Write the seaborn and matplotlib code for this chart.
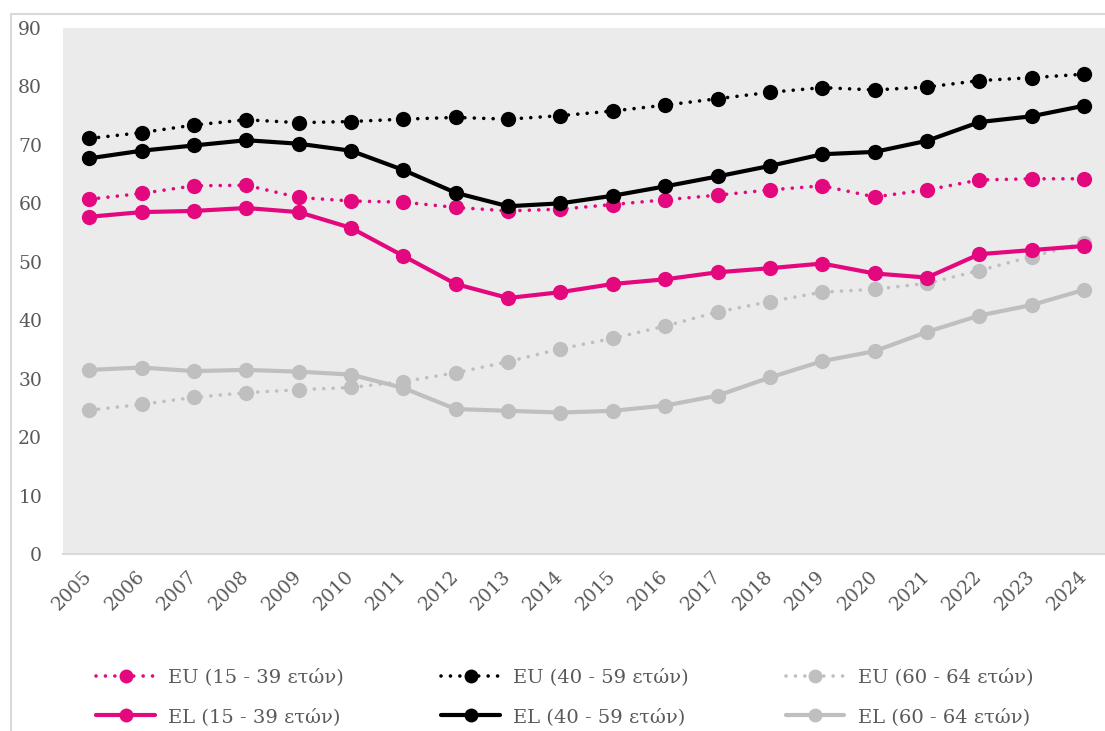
import numpy as np
import pandas as pd
import matplotlib
matplotlib.use("Agg")
import matplotlib.pyplot as plt
import seaborn as sns
from matplotlib.patches import Rectangle
from matplotlib.lines import Line2D

years = list(range(2005, 2025))
year_labels = [str(y) for y in years]

eu_15_39 = [60.7, 61.7, 63.0, 63.1, 61.0, 60.4, 60.2, 59.3, 58.7, 59.0,
            59.8, 60.6, 61.4, 62.3, 63.0, 61.1, 62.3, 64.0, 64.2, 64.2]
el_15_39 = [57.7, 58.5, 58.7, 59.2, 58.5, 55.8, 51.0, 46.2, 43.8, 44.8,
            46.2, 47.0, 48.2, 48.9, 49.7, 48.0, 47.3, 51.3, 52.0, 52.7]
eu_40_59 = [71.1, 72.1, 73.4, 74.3, 73.8, 74.0, 74.4, 74.7, 74.4, 75.0,
            75.8, 76.8, 77.9, 79.0, 79.8, 79.4, 79.9, 81.0, 81.5, 82.1]
el_40_59 = [67.7, 69.0, 69.9, 70.8, 70.2, 69.0, 65.7, 61.8, 59.5, 60.0,
            61.3, 62.9, 64.6, 66.4, 68.4, 68.8, 70.7, 73.9, 74.9, 76.7]
eu_60_64 = [24.6, 25.6, 26.8, 27.6, 28.1, 28.5, 29.5, 31.0, 32.9, 35.1,
            36.9, 39.0, 41.4, 43.2, 44.8, 45.3, 46.3, 48.5, 50.9, 53.2]
el_60_64 = [31.5, 31.9, 31.3, 31.5, 31.2, 30.7, 28.4, 24.8, 24.5, 24.2,
            24.5, 25.4, 27.1, 30.2, 33.0, 34.7, 38.0, 40.8, 42.6, 45.2]

labels = {
    "eu15": "EU (15 - 39 ετών)", "el15": "EL (15 - 39 ετών)",
    "eu40": "EU (40 - 59 ετών)", "el40": "EL (40 - 59 ετών)",
    "eu60": "EU (60 - 64 ετών)", "el60": "EL (60 - 64 ετών)",
}

PINK = "#E4087E"
BLACK = "#000000"
GREY = "#BFBFBF"
TEXT = "#595959"

sns.set_theme(style="white")
plt.rcParams["font.family"] = ["DejaVu Serif", "Liberation Serif"]

W, H = 1105, 731
fig = plt.figure(figsize=(W / 100, H / 100), dpi=100)
# outer chart-area border
fig.patches.append(Rectangle((11 / W, -0.1), 1.2, 1 - 14 / H + 0.1,
                             transform=fig.transFigure, fill=False,
                             edgecolor="#D9D9D9", lw=1.5))

ax = fig.add_axes([63 / W, (H - 554) / H, (W - 63) / W, (554 - 28) / H])
ax.set_facecolor("#EBEBEB")

dotted = (0, (0.01, 2.6))
series = [
    ("eu60", eu_60_64, GREY, dotted, 2.6),
    ("el60", el_60_64, GREY, "-", 3.0),
    ("eu15", eu_15_39, PINK, dotted, 2.6),
    ("el15", el_15_39, PINK, "-", 3.0),
    ("eu40", eu_40_59, BLACK, dotted, 2.6),
    ("el40", el_40_59, BLACK, "-", 3.0),
]
handles = {}
for key, vals, col, ls, lw in series:
    df = pd.DataFrame({"year": years, "value": vals})
    sns.lineplot(data=df, x="year", y="value", ax=ax, color=col, lw=lw,
                 linestyle=ls, marker="o", markersize=11,
                 markeredgewidth=0, dash_capstyle="round", solid_capstyle="round")
    handles[key] = Line2D([], [], color=col, lw=lw, linestyle=ls, marker="o",
                          markersize=10, markeredgewidth=0,
                          dash_capstyle="round")

ax.set_xlim(2004.5, 2024.4)
ax.set_ylim(0, 90)
ax.set_yticks(range(0, 91, 10))
ax.set_xticks(years)
ax.set_xticklabels(year_labels, rotation=45, ha="right", va="center",
                   rotation_mode="anchor")
ax.tick_params(axis="both", length=0, labelsize=13.5, labelcolor=TEXT)
ax.tick_params(axis="y", pad=15)
ax.tick_params(axis="x", pad=14)
ax.set_xlabel("")
ax.set_ylabel("")
ax.grid(False)
for s in ["left", "right", "top"]:
    ax.spines[s].set_visible(False)
ax.spines["bottom"].set_color("#D9D9D9")
ax.spines["bottom"].set_linewidth(1.5)

order = ["eu15", "el15", "eu40", "el40", "eu60", "el60"]
leg = fig.legend([handles[k] for k in order], [labels[k] for k in order],
                 ncol=3, loc="center", bbox_to_anchor=(565 / W, 1 - 697 / H),
                 frameon=False, fontsize=14, handlelength=3.0,
                 handletextpad=0.7, columnspacing=5.0, labelspacing=1.1)
for t in leg.get_texts():
    t.set_color(TEXT)

fig.savefig("out.png", dpi=100)
